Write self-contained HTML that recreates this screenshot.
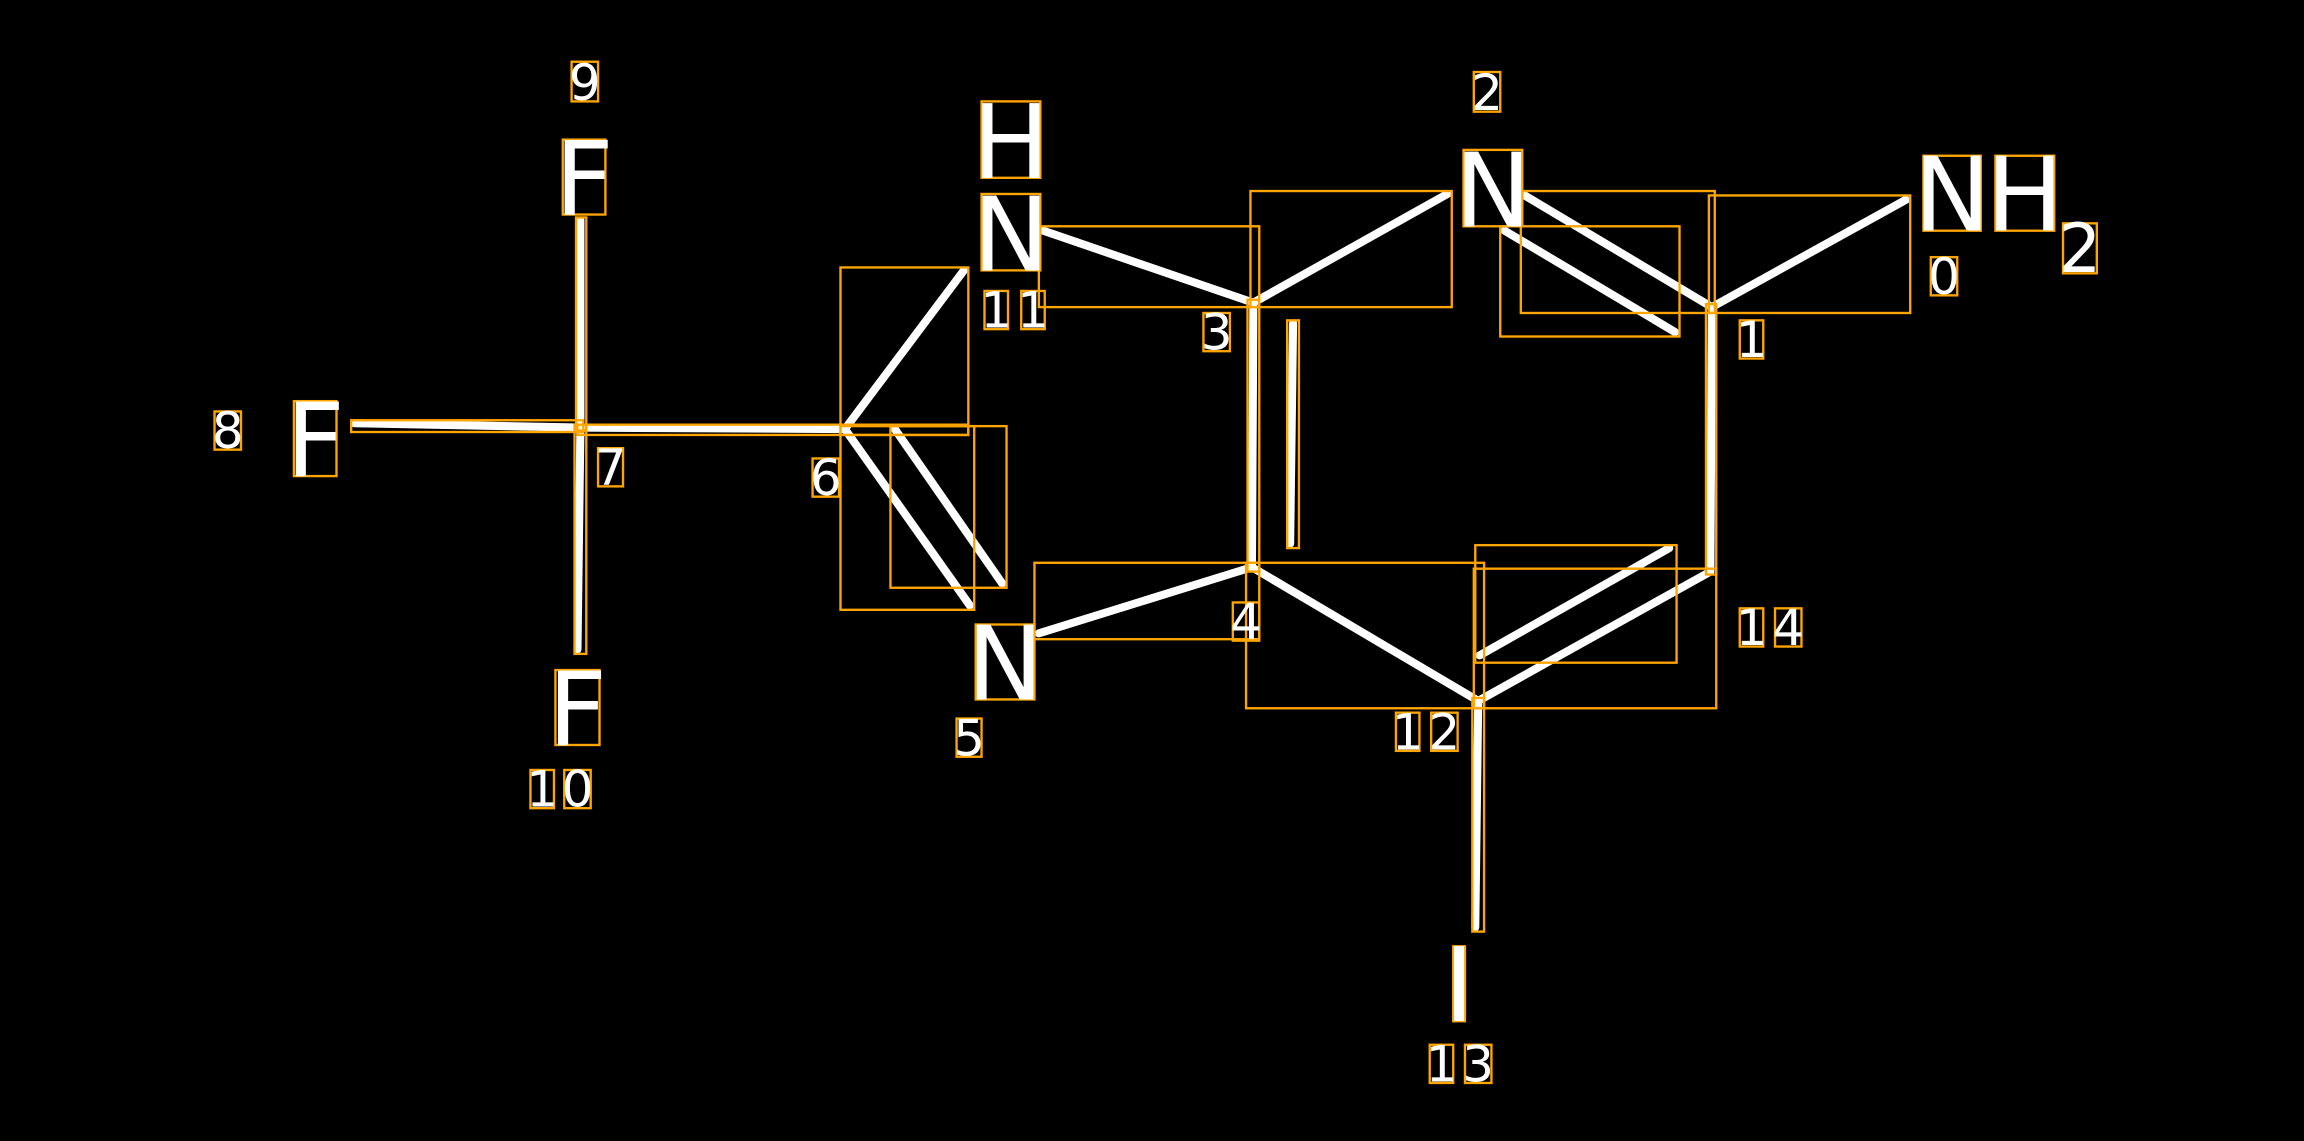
<!DOCTYPE html>
<html><head><meta charset="utf-8"><style>
html,body{margin:0;padding:0;background:#000;width:2304px;height:1141px;overflow:hidden}
svg{display:block}
text{font-family:"DejaVu Sans","Liberation Sans",sans-serif;fill:#fff}
.b{stroke:#fff;stroke-width:5.5;stroke-linecap:round}
.o{fill:none;stroke:#ffa500;stroke-width:1.6}
.L{font-size:70px;text-anchor:middle}
.s{font-size:34px;text-anchor:middle}
</style></head><body>
<svg width="2304" height="1141" viewBox="0 0 1568 776.5">
<rect width="1568" height="776.5" fill="#000"/>
<g class="b">
<line x1="395" y1="150" x2="395" y2="291"/>
<line x1="241" y1="288" x2="395" y2="291"/>
<line x1="395" y1="291" x2="393" y2="442"/>
<line x1="395" y1="291" x2="575" y2="292"/>
<line x1="575" y1="292" x2="656" y2="184"/>
<line x1="575" y1="292" x2="660" y2="412"/>
<line x1="609" y1="292" x2="682" y2="397"/>
<line x1="710" y1="157" x2="853" y2="206"/>
<line x1="853" y1="206" x2="985" y2="132"/>
<line x1="1036" y1="132" x2="1165" y2="209"/>
<line x1="1024" y1="157" x2="1140" y2="226"/>
<line x1="1165" y1="209" x2="1297" y2="136"/>
<line x1="1165" y1="209" x2="1164" y2="389"/>
<line x1="1164" y1="389" x2="1006" y2="477"/>
<line x1="1136" y1="373" x2="1007" y2="446"/>
<line x1="1006" y1="477" x2="852" y2="386"/>
<line x1="852" y1="386" x2="853" y2="206"/>
<line x1="880" y1="220" x2="878" y2="370"/>
<line x1="852" y1="386" x2="707" y2="431"/>
<line x1="1006" y1="477" x2="1004" y2="631"/>
</g>
<g class="o">
<rect x="392" y="148" width="7" height="145"/>
<rect x="239" y="286" width="158" height="8"/>
<rect x="391" y="289" width="8" height="156"/>
<rect x="393" y="289" width="266" height="7"/>
<rect x="572" y="182" width="87" height="114"/>
<rect x="572" y="290" width="91" height="125"/>
<rect x="606" y="290" width="79" height="110"/>
<rect x="707" y="154" width="150" height="55"/>
<rect x="851" y="130" width="137" height="79"/>
<rect x="1035" y="130" width="132" height="83"/>
<rect x="1021" y="154" width="122" height="75"/>
<rect x="1163" y="133" width="137" height="80"/>
<rect x="1161" y="207" width="7" height="184"/>
<rect x="1003" y="387" width="165" height="95"/>
<rect x="1004" y="371" width="137" height="80"/>
<rect x="848" y="383" width="162" height="99"/>
<rect x="849" y="204" width="8" height="185"/>
<rect x="876" y="218" width="8" height="155"/>
<rect x="704" y="383" width="153" height="52"/>
<rect x="1002" y="475" width="8" height="159"/>
<rect x="383" y="95" width="29" height="51"/>
<rect x="200" y="273" width="29" height="51"/>
<rect x="378" y="456" width="30" height="51"/>
<rect x="668" y="69" width="40" height="52"/>
<rect x="668" y="132" width="40" height="52"/>
<rect x="664" y="425" width="40" height="51"/>
<rect x="996" y="102" width="40" height="52"/>
<rect x="1309" y="106" width="39" height="51"/>
<rect x="1358" y="106" width="40" height="51"/>
<rect x="1404" y="152" width="23" height="34"/>
<rect x="989" y="644" width="8" height="51"/>
<rect x="389" y="42" width="18" height="27"/>
<rect x="146" y="280" width="18" height="26"/>
<rect x="407" y="305" width="17" height="26"/>
<rect x="553" y="312" width="18" height="26"/>
<rect x="361" y="524" width="16" height="26"/>
<rect x="384" y="524" width="18" height="26"/>
<rect x="670" y="198" width="16" height="26"/>
<rect x="695" y="198" width="16" height="26"/>
<rect x="651" y="489" width="17" height="26"/>
<rect x="819" y="213" width="18" height="26"/>
<rect x="839" y="410" width="18" height="26"/>
<rect x="1003" y="49" width="18" height="27"/>
<rect x="1314" y="175" width="18" height="26"/>
<rect x="1184" y="218" width="16" height="26"/>
<rect x="1184" y="414" width="16" height="26"/>
<rect x="1208" y="414" width="18" height="26"/>
<rect x="950" y="485" width="16" height="26"/>
<rect x="974" y="485" width="18" height="26"/>
<rect x="973" y="711" width="16" height="26"/>
<rect x="997" y="711" width="18" height="26"/>
</g>
<g class="L">
<text x="397.5" y="146">F</text>
<text x="214.5" y="324">F</text>
<text x="393" y="507">F</text>
<text x="688" y="121">H</text>
<text x="688" y="184">N</text>
<text x="684" y="476">N</text>
<text x="1016" y="154">N</text>
<text x="1328.5" y="157">N</text>
<text x="1378" y="157">H</text>
<text x="993" y="695">I</text>
</g>
<text x="1415.5" y="185" style="font-size:46px;text-anchor:middle">2</text>
<g class="s">
<text x="398" y="68">9</text>
<text x="155" y="305">8</text>
<text x="415.5" y="330">7</text>
<text x="562" y="337">6</text>
<text x="369" y="549">1</text>
<text x="393" y="549">0</text>
<text x="678" y="223">1</text>
<text x="703" y="223">1</text>
<text x="659.5" y="514">5</text>
<text x="828" y="238">3</text>
<text x="848" y="435">4</text>
<text x="1012" y="75">2</text>
<text x="1323" y="200">0</text>
<text x="1192" y="243">1</text>
<text x="1192" y="439">1</text>
<text x="1217" y="439">4</text>
<text x="958" y="510">1</text>
<text x="983" y="510">2</text>
<text x="981" y="736">1</text>
<text x="1006" y="736">3</text>
</g>
</svg>
</body></html>
